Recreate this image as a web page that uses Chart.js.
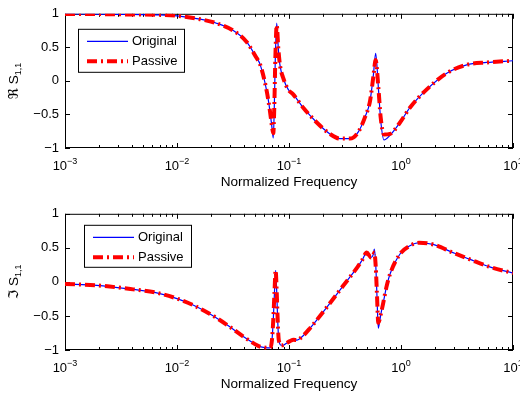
<!DOCTYPE html>
<html>
<head>
<meta charset="utf-8">
<script src="https://cdn.jsdelivr.net/npm/chart.js@4/dist/chart.umd.min.js"></script>
<style>
  html, body { margin: 0; padding: 0; background: #fff; }
  #wrap { position: relative; width: 520px; height: 399px; }
  canvas { position: absolute; left: 0; }
</style>
</head>
<body>
<div id="wrap">
  <canvas id="reChart" width="520" height="200" style="top:0"></canvas>
  <canvas id="imChart" width="520" height="199" style="top:200px"></canvas>
</div>
<script>
const FONT = '"Liberation Sans", Arial, Helvetica, "DejaVu Sans", sans-serif';

// real part of S11
const reFreq = [0.001, 0.002, 0.004, 0.007, 0.01, 0.016, 0.0225, 0.0318, 0.0419, 0.0514,
  0.0551, 0.0632, 0.0676, 0.0705, 0.0724, 0.0740, 0.0755, 0.0777, 0.0803, 0.083,
  0.0889, 0.0986, 0.109, 0.134, 0.177, 0.232, 0.285, 0.351, 0.416, 0.477,
  0.529, 0.567, 0.594, 0.628, 0.659, 0.705, 0.798, 0.98, 1.2, 1.69,
  2.56, 3.86, 5.82, 10];
const reOriginal = [0.998, 0.996, 0.99, 0.985, 0.97, 0.92, 0.86, 0.75, 0.58, 0.34,
  0.25, -0.15, -0.45, -0.70, -0.85, -0.35, 0.35, 0.86, 0.48, 0.24,
  0.04, -0.13, -0.20, -0.40, -0.62, -0.79, -0.86, -0.86, -0.76, -0.54,
  -0.30, 0.09, 0.41, -0.10, -0.59, -0.88, -0.81, -0.62, -0.40, -0.13,
  0.115, 0.24, 0.275, 0.30];
const rePassive = [0.998, 0.996, 0.99, 0.985, 0.97, 0.92, 0.86, 0.75, 0.58, 0.34,
  0.25, -0.15, -0.45, -0.68, -0.78, -0.35, 0.33, 0.83, 0.48, 0.24,
  0.04, -0.13, -0.20, -0.40, -0.62, -0.79, -0.86, -0.86, -0.76, -0.54,
  -0.30, 0.07, 0.31, -0.10, -0.55, -0.80, -0.79, -0.62, -0.40, -0.13,
  0.115, 0.24, 0.275, 0.30];

// imaginary part of S11
const imFreq = [0.001, 0.00192, 0.00405, 0.0066, 0.01, 0.0139, 0.0197, 0.0279, 0.0389, 0.0518,
  0.0551, 0.0615, 0.0676, 0.0705, 0.0724, 0.0742, 0.076, 0.0775, 0.079, 0.081,
  0.0855, 0.0886, 0.095, 0.102, 0.11, 0.118, 0.13, 0.154, 0.218, 0.307,
  0.41, 0.45, 0.494, 0.54, 0.565, 0.578, 0.595, 0.61, 0.627, 0.645,
  0.665, 0.69, 0.74, 0.80, 0.98, 1.2, 1.45, 1.93, 2.91, 4.13,
  6.2, 10];
const imOriginal = [-0.03, -0.05, -0.11, -0.16, -0.245, -0.34, -0.47, -0.63, -0.80, -0.93,
  -0.95, -0.965, -0.97, -0.85, -0.55, -0.15, 0.17, -0.10, -0.50, -0.85,
  -0.93, -0.93, -0.90, -0.87, -0.85, -0.855, -0.81, -0.68, -0.37, -0.05,
  0.22, 0.32, 0.43, 0.36, 0.40, 0.48, 0.25, -0.20, -0.68, -0.58,
  -0.45, -0.33, -0.08, 0.12, 0.41, 0.53, 0.575, 0.55, 0.43, 0.33,
  0.22, 0.13];
const imPassive = [-0.03, -0.05, -0.11, -0.16, -0.245, -0.34, -0.47, -0.63, -0.80, -0.93,
  -0.95, -0.965, -0.97, -0.85, -0.55, -0.15, 0.17, -0.10, -0.50, -0.85,
  -0.93, -0.93, -0.90, -0.87, -0.85, -0.855, -0.81, -0.68, -0.37, -0.05,
  0.22, 0.32, 0.43, 0.36, 0.39, 0.43, 0.22, -0.18, -0.60, -0.55,
  -0.45, -0.33, -0.08, 0.12, 0.41, 0.53, 0.575, 0.55, 0.43, 0.33,
  0.22, 0.13];

const seriesLabels = ['Original', 'Passive'];
const xDecades = [0.001, 0.01, 0.1, 1, 10];
const xExponents = ['\u22123', '\u22122', '\u22121', '0', '1'];
const yTicks = [-1, -0.5, 0, 0.5, 1];
const xTitle = 'Normalized Frequency';

function points(xs, ys) {
  return xs.map((x, i) => ({ x: x, y: ys[i] }));
}

// MATLAB-style box, inward ticks, superscript tick labels, y label and legend
const axesFrame = {
  id: 'axesFrame',
  beforeDatasetsDraw(chart, args, opts) {
    const { ctx, chartArea: a, scales: { x, y } } = chart;
    ctx.save();
    ctx.strokeStyle = '#000';
    ctx.lineWidth = 1;
    ctx.strokeRect(a.left + 0.5, a.top + 0.5, a.right - a.left - 1, a.bottom - a.top - 1);
    ctx.beginPath();
    xDecades.forEach((d, i) => {
      for (let k = 1; k < 10; k++) {
        const v = d * k;
        if (k > 1 && i === xDecades.length - 1) break;
        const px = Math.round(x.getPixelForValue(v)) + 0.5;
        const len = k === 1 ? 5 : 3;
        ctx.moveTo(px, a.bottom);
        ctx.lineTo(px, a.bottom - len);
        ctx.moveTo(px, a.top);
        ctx.lineTo(px, a.top + len);
      }
    });
    yTicks.forEach(v => {
      const py = Math.round(y.getPixelForValue(v)) + 0.5;
      ctx.moveTo(a.left, py);
      ctx.lineTo(a.left + 5, py);
      ctx.moveTo(a.right, py);
      ctx.lineTo(a.right - 5, py);
    });
    ctx.stroke();
    ctx.restore();
  },
  afterDraw(chart, args, opts) {
    const { ctx, chartArea: a, scales: { x } } = chart;
    ctx.save();
    ctx.fillStyle = '#000';

    // x tick labels: 10 with a raised exponent
    xDecades.forEach((d, i) => {
      const px = x.getPixelForValue(d);
      ctx.font = '13px ' + FONT;
      const wBase = ctx.measureText('10').width;
      ctx.font = '9px ' + FONT;
      const wExp = ctx.measureText(xExponents[i]).width;
      const start = px - (wBase + wExp) / 2;
      ctx.textAlign = 'left';
      ctx.textBaseline = 'alphabetic';
      ctx.font = '13px ' + FONT;
      ctx.fillText('10', start, a.bottom + 22);
      ctx.font = '9px ' + FONT;
      ctx.fillText(xExponents[i], start + wBase, a.bottom + 16);
    });

    // x title
    ctx.font = '13.6px ' + FONT;
    ctx.textAlign = 'center';
    ctx.fillText(xTitle, (a.left + a.right) / 2, a.bottom + 38);

    // y title, rotated, with subscript
    ctx.save();
    ctx.translate(13, (a.top + a.bottom) / 2);
    ctx.rotate(-Math.PI / 2);
    ctx.font = '13.6px ' + FONT;
    const wMain = ctx.measureText(opts.yMain).width;
    ctx.font = '9px ' + FONT;
    const wSub = ctx.measureText(opts.ySub).width;
    const s = -(wMain + wSub) / 2;
    ctx.textAlign = 'left';
    ctx.font = '13.6px ' + FONT;
    ctx.fillText(opts.yMain, s, 5);
    ctx.font = '9px ' + FONT;
    ctx.fillText(opts.ySub, s + wMain, 8);
    ctx.restore();

    // legend box
    const bx = a.left + opts.legendX, by = a.top + opts.legendY;
    const bw = opts.legendW, bh = opts.legendH;
    ctx.fillStyle = '#fff';
    ctx.fillRect(bx, by, bw, bh);
    ctx.strokeStyle = '#000';
    ctx.lineWidth = 1;
    ctx.strokeRect(bx + 0.5, by + 0.5, bw, bh);
    chart.data.datasets.forEach((ds, i) => {
      const ly = by + 12.5 + i * 20;
      ctx.save();
      ctx.strokeStyle = ds.borderColor;
      ctx.lineWidth = ds.borderWidth;
      ctx.setLineDash(ds.borderDash || []);
      ctx.beginPath();
      ctx.moveTo(bx + 9, ly);
      ctx.lineTo(bx + 50, ly);
      ctx.stroke();
      ctx.restore();
      ctx.fillStyle = '#000';
      ctx.font = '13px ' + FONT;
      ctx.textAlign = 'left';
      ctx.textBaseline = 'middle';
      ctx.fillText(ds.label, bx + 54, ly + 0.5);
    });
    ctx.restore();
  }
};

function makeChart(id, freq, original, passive, padTop, xHeight, frame) {
  return new Chart(document.getElementById(id), {
    type: 'line',
    data: {
      datasets: [
        {
          label: seriesLabels[0],
          data: points(freq, original),
          borderColor: '#0000ff',
          borderWidth: 1.2,
          pointRadius: 0,
          cubicInterpolationMode: 'monotone',
          order: 2
        },
        {
          label: seriesLabels[1],
          data: points(freq, passive),
          borderColor: '#ff0000',
          borderWidth: 4,
          borderDash: [10, 4, 2, 4],
          pointRadius: 0,
          cubicInterpolationMode: 'monotone',
          order: 1
        }
      ]
    },
    options: {
      responsive: false,
      animation: false,
      devicePixelRatio: 1,
      layout: { padding: { left: 0, right: 7, top: padTop, bottom: 0 } },
      plugins: {
        legend: { display: false },
        tooltip: { enabled: false },
        axesFrame: frame
      },
      scales: {
        x: {
          type: 'logarithmic',
          min: 0.001,
          max: 10,
          grid: { display: false, drawTicks: false },
          border: { display: false },
          ticks: { display: false },
          afterFit: s => { s.height = xHeight; }
        },
        y: {
          min: -1,
          max: 1,
          grid: { display: false, drawTicks: false },
          border: { display: false },
          ticks: {
            stepSize: 0.5,
            padding: 6,
            color: '#000',
            font: { family: FONT, size: 13 },
            callback: v => (v < 0 ? '\u2212' + Math.abs(v) : String(v))
          },
          afterFit: s => { s.width = 65; }
        }
      }
    },
    plugins: [axesFrame]
  });
}

makeChart('reChart', reFreq, reOriginal, rePassive, 11, 52,
  { yMain: '\u211C S', ySub: '1,1', legendX: 13, legendY: 15, legendW: 106, legendH: 43 });
makeChart('imChart', imFreq, imOriginal, imPassive, 13, 49,
  { yMain: '\u2111 S', ySub: '1,1', legendX: 19, legendY: 11, legendW: 107, legendH: 42 });
</script>
</body>
</html>
